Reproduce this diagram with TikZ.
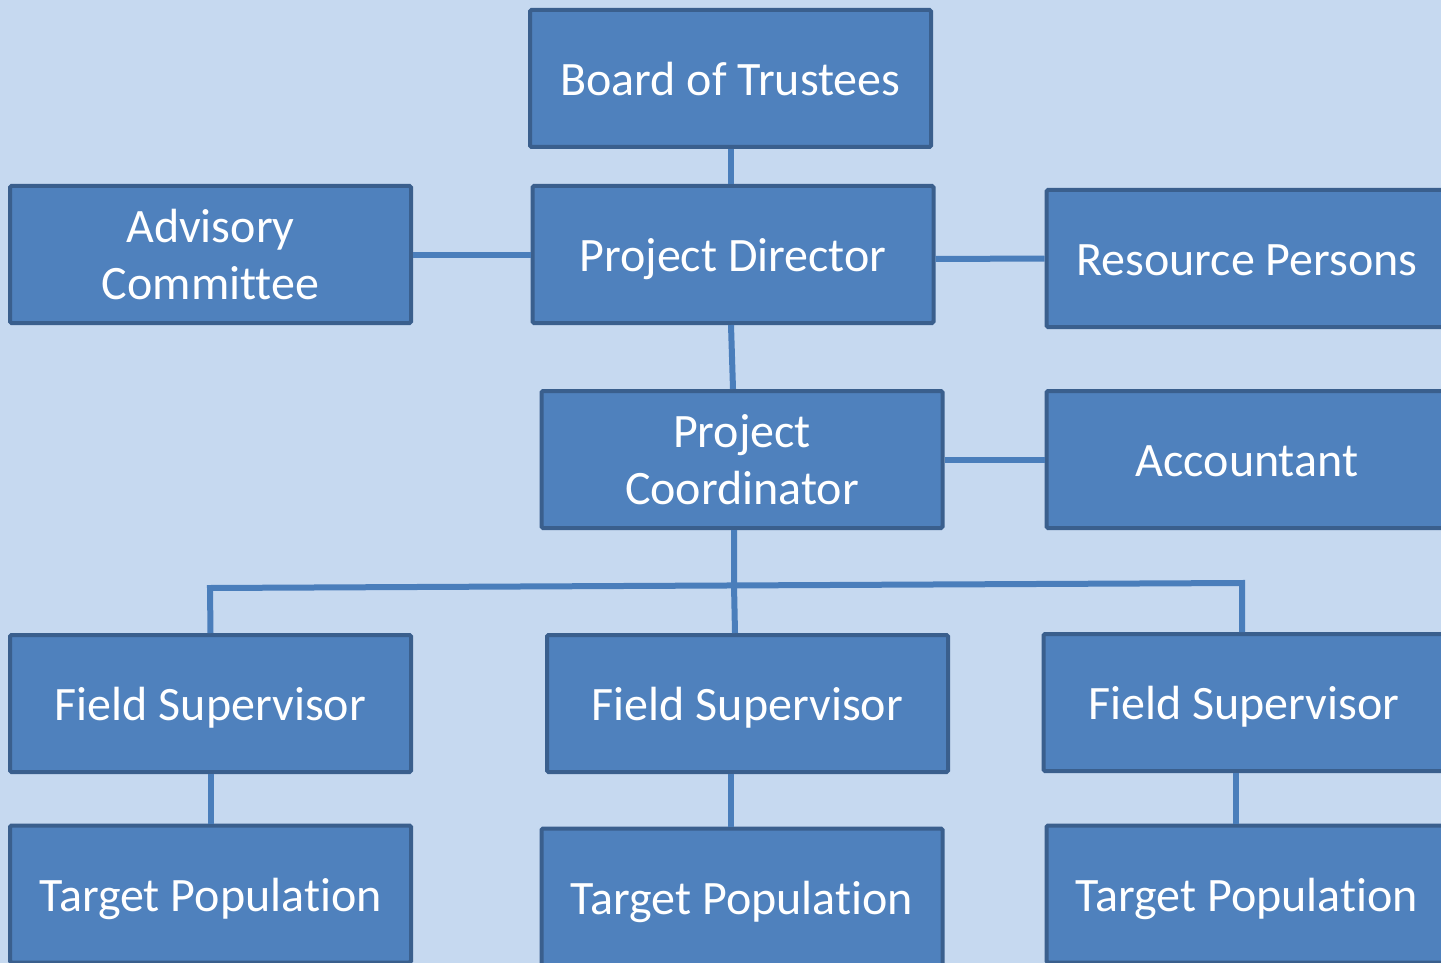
\documentclass[tikz,border=0pt]{standalone}
\usepackage{fontspec}
\setmainfont[Ligatures=NoCommon]{Carlito}
\definecolor{bgc}{HTML}{C6D9F0}
\definecolor{boxfill}{HTML}{4F81BD}
\definecolor{boxline}{HTML}{3A5F8D}
\definecolor{conn}{HTML}{4A7EBB}
\begin{document}
\begin{tikzpicture}[x=1pt,y=-1pt,
  orgbox/.style={draw=boxline,fill=boxfill,line width=4pt,rounded corners=1.5pt,
    minimum width=401pt,minimum height=137pt,inner sep=0pt,text=white,align=center,
    font=\fontsize{48}{57}\selectfont},
  oneline/.style={orgbox,text height=40pt,text depth=6pt},
  link/.style={draw=conn,line width=6pt}]
\fill[bgc] (0,0) rectangle (1441,963);
\useasboundingbox (0,0) rectangle (1441,963);
\begin{scope}
\clip (0,0) rectangle (1441,963);
\coordinate (bl) at (210,588);
\coordinate (br) at (1242,583);
\coordinate (jc) at (734,585);
\node[oneline] (bot) at (730.5,78.5) {Board of Trustees};
\node[orgbox] (ac) at (210.5,254.5) {Advisory\\Committee};
\node[oneline] (pd) at (733,254.5) {Project Director};
\node[oneline] (rp) at (1247,258.5) {Resource Persons};
\node[orgbox] (pc) at (742,459.5) {Project\\Coordinator};
\node[oneline] (acc) at (1247,459.5) {Accountant};
\node[oneline] (fs1) at (210.5,703.5) {Field Supervisor};
\node[oneline] (fs2) at (747.5,703.5) {Field Supervisor};
\node[oneline] (fs3) at (1244,702.5) {Field Supervisor};
\node[oneline] (tp1) at (210.5,894) {Target Population};
\node[oneline] (tp2) at (742,897) {Target Population};
\node[oneline] (tp3) at (1247,894) {Target Population};
\draw[link] ([xshift=0.5pt]bot.south) -- ([xshift=-2pt]pd.north);
\draw[link] (ac.east) -- (pd.west);
\draw[link] ([yshift=-4.5pt]pd.east) -- (rp.west);
\draw[link] ([xshift=-2pt]pd.south) -- ([xshift=-9pt]pc.north);
\draw[link] (pc.east) -- (acc.west);
\draw[link] ([xshift=-8pt]pc.south) -- (jc) -- ([xshift=-12.5pt]fs2.north);
\draw[link] (fs1.north) -- (bl) -- (br) -- ([xshift=-2pt]fs3.north);
\draw[link] (fs1.south) -- (tp1.north);
\draw[link] ([xshift=-16.5pt]fs2.south) -- ([xshift=-11pt]tp2.north);
\draw[link] ([xshift=-8pt]fs3.south) -- ([xshift=-11pt]tp3.north);
\end{scope}
\end{tikzpicture}
\end{document}
